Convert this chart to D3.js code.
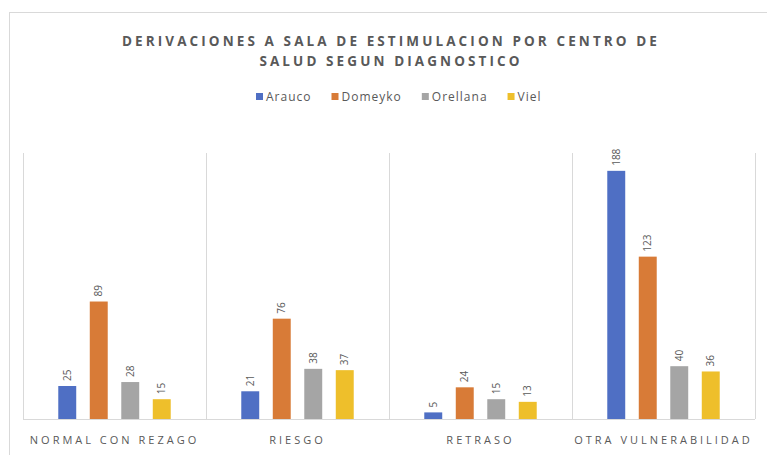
<!DOCTYPE html>
<html>
<head>
<meta charset="utf-8">
<script src="https://cdn.jsdelivr.net/npm/d3@7"></script>
<style>
  body { margin: 0; background: #fff; }
  svg text { font-family: "Open Sans", "Noto Sans", sans-serif; fill: #595959; }
</style>
</head>
<body>
<svg id="vis" width="767" height="455"></svg>
<script>
// data
var categories = ["NORMAL CON REZAGO", "RIESGO", "RETRASO", "OTRA VULNERABILIDAD"];
var centros = ["Arauco", "Domeyko", "Orellana", "Viel"];
var arauco   = [25, 21, 5, 188];
var domeyko  = [89, 76, 24, 123];
var orellana = [28, 38, 15, 40];
var viel     = [15, 37, 13, 36];
var colores  = ["#4F6FC4", "#D87B37", "#A5A5A5", "#EEBF2B"];
var titleLines = ["DERIVACIONES A SALA DE ESTIMULACION POR CENTRO DE", "SALUD SEGUN DIAGNOSTICO"];

var series = [arauco, domeyko, orellana, viel];

var svg = d3.select("#vis");

// plot area
var plotLeft = 23, plotRight = 755, plotTop = 153, plotBottom = 419;

// outer frame (partly cut off in the original)
svg.append("rect")
    .attr("x", 9.5).attr("y", 12.5)
    .attr("width", 770).attr("height", 460)
    .attr("fill", "none")
    .attr("stroke", "#D9D9D9");

// title
svg.append("g").selectAll("text")
    .data(titleLines)
    .enter()
    .append("text")
    .attr("x", 391)
    .attr("y", (d, i) => 46 + i * 20)
    .attr("text-anchor", "middle")
    .style("font-size", "13.5px")
    .style("font-weight", "bold")
    .style("letter-spacing", "3.1px")
    .text(d => d);

var x0 = d3.scaleBand()
    .domain(categories)
    .range([plotLeft, plotRight])
    .padding(0);

var x1 = d3.scaleBand()
    .domain(centros)
    .range([0, 126])
    .paddingInner(0.43)
    .paddingOuter(0.215);

var y = d3.scaleLinear()
    .domain([0, 200])
    .range([plotBottom, plotBottom - 264]);

var groupOffset = (x0.bandwidth() - 126) / 2;

// separators between categories
var seps = categories.map(c => x0(c)).concat([plotRight]);
svg.append("g").selectAll("line")
    .data(seps)
    .enter()
    .append("line")
    .attr("x1", d => Math.round(d) + 0.5)
    .attr("x2", d => Math.round(d) + 0.5)
    .attr("y1", plotTop)
    .attr("y2", plotBottom)
    .attr("stroke", "#D9D9D9");

// baseline
svg.append("line")
    .attr("x1", plotLeft).attr("x2", plotRight)
    .attr("y1", plotBottom + 0.5).attr("y2", plotBottom + 0.5)
    .attr("stroke", "#D9D9D9");

// bars
var groups = svg.append("g").selectAll("g.cat")
    .data(categories)
    .enter()
    .append("g")
    .attr("class", "cat")
    .attr("transform", d => "translate(" + (x0(d) + groupOffset) + ",0)");

groups.selectAll("rect")
    .data((c, ci) => centros.map((s, si) => ({s: s, si: si, v: series[si][ci]})))
    .enter()
    .append("rect")
    .attr("x", d => x1(d.s))
    .attr("width", x1.bandwidth())
    .attr("y", d => y(d.v))
    .attr("height", d => y(0) - y(d.v))
    .attr("fill", d => colores[d.si]);

// data labels, rotated
groups.selectAll("text.lbl")
    .data((c, ci) => centros.map((s, si) => ({s: s, si: si, v: series[si][ci]})))
    .enter()
    .append("text")
    .attr("class", "lbl")
    .attr("transform", d => "translate(" + (x1(d.s) + x1.bandwidth() / 2) + "," + (y(d.v) - 5) + ") rotate(-90)")
    .attr("dy", "0.35em")
    .style("font-size", "10px")
    .text(d => d.v);

// category labels
svg.append("g").selectAll("text")
    .data(categories)
    .enter()
    .append("text")
    .attr("x", d => x0(d) + x0.bandwidth() / 2)
    .attr("y", 444)
    .attr("text-anchor", "middle")
    .style("font-size", "11px")
    .style("letter-spacing", "3px")
    .text(d => d);

// legend
var legend = svg.append("g").attr("transform", "translate(256,97)");
var lx = 0;
centros.forEach(function(c, i) {
    var item = legend.append("g").attr("transform", "translate(" + lx + ",0)");
    item.append("rect")
        .attr("x", 0).attr("y", -4)
        .attr("width", 7).attr("height", 7)
        .attr("fill", colores[i]);
    var t = item.append("text")
        .attr("x", 10)
        .attr("dy", "0.35em")
        .style("font-size", "12px")
        .style("letter-spacing", "1px")
        .text(c);
    lx += 10 + t.node().getComputedTextLength() + 20;
});
</script>
</body>
</html>
